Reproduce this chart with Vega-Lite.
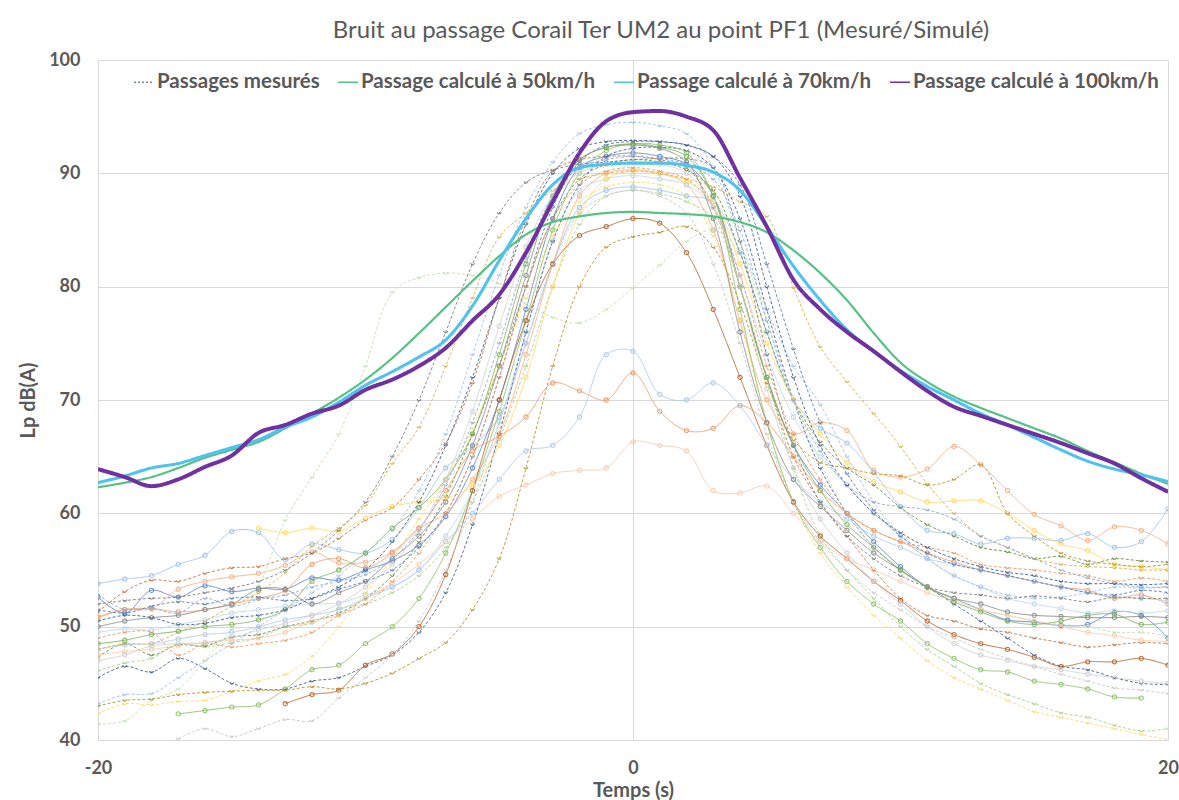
{
"$schema":"https://vega.github.io/schema/vega-lite/v6.json",
"width":1070,"height":680,
"autosize":{"type":"none"},
"padding":{"left":98,"top":60,"right":11,"bottom":60},
"background":"white",
"title":{"text":"Bruit au passage Corail Ter UM2 au point PF1 (Mesuré/Simulé)","font":"Lato","fontSize":24,"fontWeight":"normal","color":"#595959","anchor":"middle","dx":28,"offset":8},
"config":{"view":{"stroke":null},"axis":{"labelFont":"Lato","labelFontSize":18,"labelFontWeight":"bold","labelColor":"#595959","titleFont":"Lato","titleFontSize":20,"titleFontWeight":"bold","titleColor":"#595959","gridColor":"#D9D9D9","gridWidth":1,"domain":false,"ticks":false}},
"data":{"values":[
{"t":-20,"m01":53.8,"m02":52.6,"m03":51.3,"m04":50.9,"m05":49.5,"m06":47.3,"m07":46.1,"m08":45.5,"m09":43.2,"m10":42.3,"m11":41.4,"m12":null,"m13":null,"m14":null,"m15":null,"m16":50.8,"m17":48.0,"m18":47.5,"m19":48,"m20":52.0,"m21":51.5,"m22":50.0,"m23":48.5,"m24":43.0,"m25":49,"m26":52.8,"m27":50.5,"m28":47.0,"c50":62.3,"c70":62.7,"c100":63.9},
{"t":-19,"m01":54.2,"m02":51.2,"m03":53.1,"m04":51.5,"m05":49.8,"m06":48.5,"m07":46.8,"m08":46.5,"m09":44,"m10":43.2,"m11":41.7,"m12":null,"m13":null,"m14":null,"m15":null,"m16":51.5,"m17":48.4,"m18":47.8,"m19":48.5,"m20":52.3,"m21":51.2,"m22":50.5,"m23":48.8,"m24":43.5,"m25":49.5,"m26":51.5,"m27":51,"m28":47.5,"c50":62.7,"c70":63.3,"c100":63.2},
{"t":-18,"m01":54.5,"m02":53.2,"m03":54.1,"m04":51.6,"m05":49.7,"m06":47.5,"m07":47.2,"m08":46.0,"m09":44.1,"m10":43.1,"m11":43.5,"m12":null,"m13":null,"m14":null,"m15":null,"m16":51.6,"m17":48.5,"m18":48,"m19":48.5,"m20":52.5,"m21":51.8,"m22":50.8,"m23":49.3,"m24":43.6,"m25":49.5,"m26":51.6,"m27":50.8,"m28":48.3,"c50":63.2,"c70":64.0,"c100":62.4},
{"t":-17,"m01":55.5,"m02":52.6,"m03":54.0,"m04":53.3,"m05":50.2,"m06":48.4,"m07":48.5,"m08":47.2,"m09":45.5,"m10":43.4,"m11":44.5,"m12":null,"m13":42.3,"m14":null,"m15":40.1,"m16":51.3,"m17":48.9,"m18":48.3,"m19":49.5,"m20":52.6,"m21":52.2,"m22":51,"m23":49.6,"m24":44.0,"m25":47.5,"m26":51.2,"m27":50.2,"m28":48.5,"c50":64.0,"c70":64.4,"c100":63.0},
{"t":-16,"m01":56.3,"m02":53.6,"m03":54.7,"m04":54.0,"m05":50.6,"m06":48.3,"m07":48.2,"m08":46.3,"m09":47,"m10":43.5,"m11":47.0,"m12":null,"m13":42.6,"m14":null,"m15":41,"m16":51.5,"m17":49.3,"m18":48.6,"m19":50.5,"m20":53,"m21":52,"m22":51.5,"m23":50,"m24":44.2,"m25":48.5,"m26":52.5,"m27":50.3,"m28":48.6,"c50":64.9,"c70":65.1,"c100":64.1},
{"t":-15,"m01":58.4,"m02":53.1,"m03":55.2,"m04":54.4,"m05":51.2,"m06":49.1,"m07":48.6,"m08":45.0,"m09":48.5,"m10":44.3,"m11":49.8,"m12":null,"m13":42.9,"m14":null,"m15":40.3,"m16":52,"m17":49.5,"m18":48.8,"m19":51.8,"m20":53.4,"m21":52.5,"m22":52,"m23":50.2,"m24":44.3,"m25":48.2,"m26":51.8,"m27":50.8,"m28":49,"c50":65.6,"c70":65.8,"c100":65.1},
{"t":-14,"m01":58.3,"m02":53.4,"m03":55.3,"m04":54.7,"m05":51.5,"m06":49.3,"m07":49,"m08":44.5,"m09":50,"m10":45.2,"m11":53.5,"m12":58.7,"m13":43.1,"m14":null,"m15":41,"m16":52.5,"m17":50,"m18":49,"m19":53,"m20":54,"m21":52.6,"m22":53.3,"m23":50.6,"m24":44.4,"m25":48.5,"m26":52.4,"m27":51,"m28":49.7,"c50":66.3,"c70":66.5,"c100":67.1},
{"t":-13,"m01":55.9,"m02":53.3,"m03":56.0,"m04":55.4,"m05":51.8,"m06":50,"m07":50,"m08":44.5,"m09":51.5,"m10":45.8,"m11":59.4,"m12":58.3,"m13":44.5,"m14":43.2,"m15":41.8,"m16":53.2,"m17":50.6,"m18":49.5,"m19":54.8,"m20":55,"m21":52.3,"m22":53.3,"m23":51.5,"m24":44.4,"m25":48.8,"m26":52.8,"m27":51.5,"m28":50.3,"c50":67.5,"c70":67.6,"c100":67.8},
{"t":-12,"m01":57.3,"m02":54.3,"m03":56.5,"m04":56.6,"m05":52.0,"m06":50.5,"m07":50.3,"m08":45.2,"m09":53,"m10":47.4,"m11":63.2,"m12":58.7,"m13":46.2,"m14":44,"m15":41.7,"m16":55.5,"m17":51,"m18":50.5,"m19":57.1,"m20":56.5,"m21":52.5,"m22":52,"m23":54.0,"m24":44.7,"m25":49.5,"m26":53.5,"m27":52.5,"m28":51,"c50":68.8,"c70":68.5,"c100":68.8},
{"t":-11,"m01":56.8,"m02":54.1,"m03":57.8,"m04":55.6,"m05":52.1,"m06":51.2,"m07":51.6,"m08":45.5,"m09":54.5,"m10":50,"m11":67,"m12":58.4,"m13":46.6,"m14":44.4,"m15":43.7,"m16":56,"m17":51.5,"m18":51,"m19":58.7,"m20":58.5,"m21":53.3,"m22":53,"m23":55.0,"m24":44.5,"m25":51,"m26":54.0,"m27":53.5,"m28":52,"c50":70.2,"c70":69.8,"c100":69.5},
{"t":-10,"m01":56.5,"m02":55,"m03":59.4,"m04":55.7,"m05":52.8,"m06":52.5,"m07":52,"m08":46.5,"m09":56.5,"m10":53,"m11":73,"m12":59.6,"m13":48.5,"m14":46.6,"m15":45.5,"m16":55.2,"m17":52.5,"m18":52.5,"m19":60.7,"m20":61,"m21":54,"m22":54,"m23":56.5,"m24":45.0,"m25":52,"m26":54.6,"m27":55,"m28":53.5,"c50":71.8,"c70":71.3,"c100":70.9},
{"t":-9,"m01":57.7,"m02":55.8,"m03":60.5,"m04":56.6,"m05":53.5,"m06":54.5,"m07":53,"m08":47.5,"m09":58.5,"m10":56,"m11":79.5,"m12":60.6,"m13":50,"m14":47.6,"m15":47.5,"m16":56.5,"m17":53.5,"m18":53.8,"m19":64.4,"m20":65,"m21":55,"m22":56,"m23":58.7,"m24":45.9,"m25":54,"m26":56,"m27":57.5,"m28":55.5,"c50":73.7,"c70":72.5,"c100":71.8},
{"t":-8,"m01":60.5,"m02":57.2,"m03":63,"m04":58.7,"m05":55,"m06":57.5,"m07":54.5,"m08":49.5,"m09":62,"m10":59.5,"m11":80.8,"m12":61,"m13":52.5,"m14":50,"m15":50.5,"m16":58.7,"m17":55,"m18":55.5,"m19":67.6,"m20":70,"m21":57,"m22":58,"m23":60.5,"m24":47.2,"m25":56.5,"m26":58.5,"m27":61,"m28":58.5,"c50":75.9,"c70":73.8,"c100":73.0},
{"t":-7,"m01":64.0,"m02":59.7,"m03":66.2,"m04":60,"m05":58,"m06":61.5,"m07":57,"m08":53,"m09":67,"m10":63,"m11":81.2,"m12":61.3,"m13":56.5,"m14":54.6,"m15":55,"m16":62,"m17":57.5,"m18":57.5,"m19":73,"m20":76,"m21":60,"m22":61,"m23":63,"m24":48.6,"m25":60,"m26":62.5,"m27":66,"m28":63,"c50":78.2,"c70":75.3,"c100":74.6},
{"t":-6,"m01":65.9,"m02":64,"m03":71.5,"m04":63,"m05":62,"m06":67,"m07":61,"m08":59,"m09":74,"m10":67.5,"m11":81,"m12":62.5,"m13":62,"m14":62,"m15":61,"m16":65.5,"m17":60,"m18":59.5,"m19":79,"m20":82,"m21":65,"m22":66,"m23":67,"m24":51.5,"m25":65,"m26":68,"m27":72,"m28":69,"c50":80.5,"c70":78.3,"c100":77.0},
{"t":-5,"m01":68.5,"m02":70,"m03":79,"m04":67,"m05":68,"m06":73,"m07":66.5,"m08":67,"m09":81,"m10":73,"m11":80.3,"m12":66,"m13":69,"m14":70,"m15":68,"m16":66.8,"m17":63,"m18":61.5,"m19":84.4,"m20":86.5,"m21":72,"m22":73,"m23":74,"m24":56,"m25":72,"m26":75,"m27":79,"m28":76.5,"c50":82.7,"c70":82.3,"c100":79.3},
{"t":-4,"m01":75,"m02":78,"m03":86,"m04":74,"m05":76,"m06":80,"m07":73,"m08":76,"m09":87,"m10":79,"m11":78.5,"m12":72,"m13":77,"m14":77,"m15":75,"m16":68.5,"m17":65.5,"m18":62.5,"m19":86.5,"m20":89.2,"m21":80,"m22":81,"m23":82,"m24":64,"m25":80,"m26":82.5,"m27":85.5,"m28":83.5,"c50":84.6,"c70":86.0,"c100":83.0},
{"t":-3,"m01":82,"m02":86,"m03":90.2,"m04":82,"m05":84,"m06":86,"m07":80,"m08":84,"m09":91,"m10":84.5,"m11":77.3,"m12":80,"m13":85,"m14":82,"m15":82,"m16":71.5,"m17":66,"m18":63.5,"m19":88.5,"m20":90.3,"m21":87,"m22":88,"m23":88,"m24":73,"m25":86,"m26":88,"m27":90,"m28":88,"c50":85.7,"c70":89.0,"c100":87.5},
{"t":-2,"m01":87,"m02":90.5,"m03":91.2,"m04":88,"m05":88.5,"m06":89.5,"m07":85.5,"m08":89,"m09":93.5,"m10":87.5,"m11":76.8,"m12":86.5,"m13":90,"m14":84.5,"m15":86.5,"m16":70.8,"m17":68.5,"m18":63.8,"m19":89.5,"m20":90.8,"m21":91,"m22":91.2,"m23":91.2,"m24":80,"m25":89,"m26":90.5,"m27":92.2,"m28":90,"c50":86.2,"c70":90.5,"c100":91.8},
{"t":-1,"m01":88.5,"m02":91.5,"m03":91.5,"m04":90,"m05":89.5,"m06":90.8,"m07":88,"m08":91.5,"m09":94.3,"m10":88.8,"m11":78,"m12":89.5,"m13":92,"m14":85.3,"m15":88,"m16":70,"m17":74.0,"m18":64.0,"m19":90,"m20":91,"m21":92.5,"m22":92.3,"m23":92.3,"m24":83.5,"m25":90.2,"m26":91.2,"m27":92.8,"m28":90.8,"c50":86.5,"c70":90.8,"c100":94.6},
{"t":0,"m01":88.8,"m02":91.8,"m03":91.5,"m04":90.3,"m05":89.8,"m06":91.2,"m07":88.5,"m08":92.2,"m09":94.5,"m10":89.2,"m11":79.9,"m12":90.2,"m13":92.6,"m14":86.0,"m15":88.5,"m16":72.4,"m17":74.3,"m18":66.3,"m19":90.2,"m20":91.2,"m21":92.8,"m22":92.5,"m23":92.6,"m24":84.4,"m25":90.5,"m26":91.5,"m27":92.9,"m28":91,"c50":86.6,"c70":90.9,"c100":95.4},
{"t":1,"m01":88.5,"m02":91.5,"m03":91.2,"m04":90,"m05":89.5,"m06":91,"m07":88.2,"m08":92.3,"m09":94.2,"m10":89,"m11":81.9,"m12":90,"m13":92.5,"m14":85.6,"m15":88,"m16":69,"m17":70.5,"m18":66.0,"m19":90,"m20":91.3,"m21":92.8,"m22":92.2,"m23":92.3,"m24":84.8,"m25":90.2,"m26":91.3,"m27":92.8,"m28":90.8,"c50":86.5,"c70":90.9,"c100":95.5},
{"t":2,"m01":88.0,"m02":90.8,"m03":90.5,"m04":89,"m05":89,"m06":90.3,"m07":87.5,"m08":92.0,"m09":93.5,"m10":88,"m11":84,"m12":89.3,"m13":91.8,"m14":83,"m15":86.5,"m16":67.3,"m17":70.0,"m18":65.5,"m19":89.5,"m20":91.3,"m21":92.5,"m22":91,"m23":91.5,"m24":85.3,"m25":89.5,"m26":90.8,"m27":92.5,"m28":90,"c50":86.4,"c70":90.7,"c100":95.0},
{"t":3,"m01":87.5,"m02":88,"m03":87,"m04":85,"m05":87,"m06":88.5,"m07":86,"m08":90.5,"m09":90.5,"m10":84.5,"m11":85,"m12":87.5,"m13":88,"m14":78,"m15":82,"m16":67.5,"m17":71.5,"m18":62.0,"m19":88.8,"m20":90.5,"m21":91.5,"m22":86,"m23":88,"m24":83.5,"m25":87,"m26":89.5,"m27":91.5,"m28":87,"c50":86.2,"c70":90.1,"c100":93.8},
{"t":4,"m01":83.0,"m02":80,"m03":80,"m04":77,"m05":81,"m06":83,"m07":80,"m08":86,"m09":84,"m10":77,"m11":83,"m12":82,"m13":78,"m14":72,"m15":75,"m16":69.5,"m17":69.5,"m18":61.8,"m19":87.5,"m20":84,"m21":89,"m22":76,"m23":80,"m24":78.5,"m25":81,"m26":85,"m27":88,"m28":80,"c50":85.7,"c70":88.5,"c100":89.6},
{"t":5,"m01":76,"m02":72,"m03":72,"m04":70,"m05":74,"m06":76,"m07":72,"m08":78,"m09":78,"m10":68,"m11":77,"m12":75,"m13":68,"m14":66,"m15":67,"m16":68,"m17":66,"m18":62.4,"m19":86.2,"m20":74,"m21":82,"m22":68,"m23":72,"m24":71.5,"m25":73,"m26":77,"m27":80,"m28":71,"c50":84.8,"c70":85.3,"c100":85.3},
{"t":6,"m01":70,"m02":66,"m03":65,"m04":67,"m05":68.5,"m06":70,"m07":64,"m08":70,"m09":73,"m10":61,"m11":70,"m12":70,"m13":61,"m14":61,"m15":61,"m16":65,"m17":63,"m18":60,"m19":79.9,"m20":66,"m21":74.5,"m22":63,"m23":66,"m24":66.5,"m25":67,"m26":70,"m27":72,"m28":64,"c50":83.2,"c70":81.8,"c100":80.6},
{"t":7,"m01":67.5,"m02":62.5,"m03":61,"m04":68,"m05":65,"m06":66.3,"m07":58,"m08":64,"m09":69.6,"m10":56.5,"m11":64.5,"m12":67,"m13":57,"m14":58,"m15":57.5,"m16":62,"m17":61,"m18":57.5,"m19":74.7,"m20":61,"m21":68,"m22":60.6,"m23":62,"m24":64.5,"m25":63,"m26":65.5,"m27":66,"m28":59.5,"c50":81.2,"c70":78.8,"c100":78.0},
{"t":8,"m01":66.2,"m02":60,"m03":58,"m04":67.3,"m05":62.5,"m06":64,"m07":55,"m08":60,"m09":65,"m10":53.5,"m11":60,"m12":64.5,"m13":54,"m14":56,"m15":55,"m16":60,"m17":59.5,"m18":56,"m19":71.6,"m20":58,"m21":63.5,"m22":58.5,"m23":59,"m24":64,"m25":60,"m26":62.5,"m27":62.5,"m28":56.5,"c50":78.8,"c70":76.2,"c100":76.0},
{"t":9,"m01":63.6,"m02":57.5,"m03":55,"m04":63.8,"m05":60,"m06":62.5,"m07":52.5,"m08":57,"m09":61,"m10":51,"m11":57,"m12":62.8,"m13":52,"m14":54,"m15":53,"m16":58.5,"m17":58,"m18":55,"m19":68.8,"m20":56,"m21":60.3,"m22":56.5,"m23":57,"m24":63.5,"m25":58.5,"m26":61,"m27":60,"m28":54,"c50":75.9,"c70":74.3,"c100":74.3},
{"t":10,"m01":60.6,"m02":55.3,"m03":52.5,"m04":63.2,"m05":58,"m06":60.5,"m07":50,"m08":55,"m09":58,"m10":49,"m11":55,"m12":61.9,"m13":50.5,"m14":52.3,"m15":51.5,"m16":57.5,"m17":57,"m18":54,"m19":65.9,"m20":54.5,"m21":58,"m22":55,"m23":55,"m24":63.3,"m25":57.5,"m26":60.6,"m27":58.3,"m28":52,"c50":73.3,"c70":72.6,"c100":72.5},
{"t":11,"m01":58.5,"m02":53.5,"m03":51,"m04":63.9,"m05":56,"m06":59,"m07":48,"m08":53.5,"m09":56,"m10":47,"m11":53.5,"m12":61,"m13":48.5,"m14":50.5,"m15":50,"m16":56.5,"m17":56,"m18":53,"m19":62.6,"m20":53.5,"m21":56.5,"m22":53.5,"m23":53.5,"m24":62.5,"m25":57,"m26":60.3,"m27":57,"m28":50,"c50":71.6,"c70":71.2,"c100":70.8},
{"t":12,"m01":58.2,"m02":52.5,"m03":50.5,"m04":65.9,"m05":54.5,"m06":58,"m07":46.5,"m08":52,"m09":54.5,"m10":45.5,"m11":52.5,"m12":61.1,"m13":47.2,"m14":49.3,"m15":49,"m16":55.7,"m17":55.5,"m18":52.3,"m19":60,"m20":53,"m21":55.5,"m22":52.5,"m23":52.2,"m24":63,"m25":56.5,"m26":59.5,"m27":56,"m28":48.5,"c50":70.3,"c70":70.0,"c100":69.4},
{"t":13,"m01":57.3,"m02":51.5,"m03":49.8,"m04":64.3,"m05":53.5,"m06":57,"m07":45,"m08":50.5,"m09":53.5,"m10":44.5,"m11":51.5,"m12":61.1,"m13":46.2,"m14":48.5,"m15":48,"m16":55,"m17":55,"m18":51.5,"m19":58,"m20":52.8,"m21":55,"m22":52,"m23":51.3,"m24":64.3,"m25":55.5,"m26":58,"m27":55.3,"m28":47.5,"c50":69.3,"c70":68.8,"c100":68.6},
{"t":14,"m01":57.8,"m02":50.6,"m03":49.5,"m04":62,"m05":52.5,"m06":56.6,"m07":44,"m08":49,"m09":52.8,"m10":43.5,"m11":51,"m12":60,"m13":46,"m14":48,"m15":47.2,"m16":54.5,"m17":54.5,"m18":51,"m19":57,"m20":52.5,"m21":54.5,"m22":51.3,"m23":50.5,"m24":60,"m25":55.2,"m26":57,"m27":54.8,"m28":47,"c50":68.4,"c70":67.8,"c100":67.8},
{"t":15,"m01":57.8,"m02":50.4,"m03":49.0,"m04":59.9,"m05":52,"m06":56.0,"m07":43.2,"m08":47.5,"m09":52.5,"m10":42.5,"m11":50.5,"m12":58.5,"m13":45.2,"m14":47.3,"m15":46.5,"m16":54,"m17":54,"m18":50.5,"m19":56,"m20":52.7,"m21":54,"m22":51,"m23":50.2,"m24":58,"m25":55,"m26":56,"m27":54.5,"m28":46.5,"c50":67.5,"c70":66.7,"c100":67.0},
{"t":16,"m01":57.6,"m02":50.1,"m03":48.6,"m04":58.9,"m05":51.6,"m06":56.2,"m07":42.4,"m08":46.5,"m09":52.6,"m10":42,"m11":50.2,"m12":57.3,"m13":44.9,"m14":46.5,"m15":45.8,"m16":53.5,"m17":53.5,"m18":50,"m19":55.5,"m20":52.5,"m21":53.5,"m22":50.9,"m23":50.5,"m24":56.5,"m25":54.7,"m26":55,"m27":54,"m28":46.2,"c50":66.6,"c70":65.6,"c100":66.2},
{"t":17,"m01":58.2,"m02":50.2,"m03":48.2,"m04":57.6,"m05":51.2,"m06":55.5,"m07":42,"m08":46.2,"m09":53,"m10":41.5,"m11":50,"m12":56.7,"m13":44.5,"m14":46.9,"m15":45.2,"m16":53.2,"m17":53,"m18":49.5,"m19":55.3,"m20":52.2,"m21":53,"m22":50.8,"m23":51,"m24":55.8,"m25":54.5,"m26":54.3,"m27":53.8,"m28":45.8,"c50":65.5,"c70":64.6,"c100":65.3},
{"t":18,"m01":57.0,"m02":51.3,"m03":48.4,"m04":58.8,"m05":51.4,"m06":56.0,"m07":41.3,"m08":45.5,"m09":53.5,"m10":41,"m11":49.5,"m12":55.5,"m13":43.8,"m14":46.9,"m15":44.6,"m16":52.5,"m17":52.6,"m18":49.2,"m19":55.2,"m20":52.6,"m21":52.8,"m22":50.8,"m23":51.1,"m24":55.5,"m25":54,"m26":53.8,"m27":53.8,"m28":45.5,"c50":64.5,"c70":63.9,"c100":64.4},
{"t":19,"m01":57.5,"m02":51.0,"m03":48.6,"m04":58.5,"m05":51.2,"m06":55.8,"m07":40.8,"m08":45.0,"m09":53.4,"m10":40.5,"m11":49.5,"m12":55.3,"m13":43.7,"m14":47.2,"m15":44.4,"m16":52.8,"m17":52.5,"m18":48.8,"m19":55,"m20":52.5,"m21":53.2,"m22":50.9,"m23":50.2,"m24":55.3,"m25":54.3,"m26":53.5,"m27":53.7,"m28":45.2,"c50":63.5,"c70":63.4,"c100":63.1},
{"t":20,"m01":60.4,"m02":49.0,"m03":48.5,"m04":57.3,"m05":51.4,"m06":55.7,"m07":41.0,"m08":44.9,"m09":53.5,"m10":40.0,"m11":49.2,"m12":55.0,"m13":null,"m14":46.6,"m15":44.1,"m16":52.0,"m17":52.3,"m18":48.7,"m19":55.0,"m20":52.5,"m21":53.0,"m22":50.8,"m23":50.4,"m24":55.5,"m25":54.0,"m26":53.5,"m27":53.8,"m28":45.0,"c50":62.6,"c70":62.8,"c100":61.9}
]},
"layer":[
{"transform":[{"fold":["m01","m02","m03","m04","m05","m06","m07","m08","m09","m10","m11","m12","m13","m14","m15","m16","m17","m18","m19","m20","m21","m22","m23","m24","m25","m26","m27","m28"],"as":["serie","lp"]}],
 "layer":[
  {"mark":{"type":"line","interpolate":"catmull-rom","strokeWidth":1,"opacity":0.9,"clip":true},
   "encoding":{
    "x":{"field":"t","type":"quantitative","scale":{"domain":[-20,20]},"axis":{"values":[-20,0,20],"grid":true,"labelPadding":19,"labelFlush":false,"labelOverlap":false,"labelExpr":"'' + datum.value","title":"Temps (s)","titlePadding":3}},
    "y":{"field":"lp","type":"quantitative","scale":{"domain":[40,100]},"axis":{"values":[40,50,60,70,80,90,100],"grid":true,"labelPadding":18,"title":"Lp dB(A)","titlePadding":10}},
    "color":{"field":"serie","type":"nominal","legend":null,"scale":{"domain":["m01","m02","m03","m04","m05","m06","m07","m08","m09","m10","m11","m12","m13","m14","m15","m16","m17","m18","m19","m20","m21","m22","m23","m24","m25","m26","m27","m28"],"range":["#9DC3E6","#5B84C9","#C07B4C","#F4B183","#BDD7EE","#6C8F3F","#A9D18E","#4A6494","#9DC3E6","#FFD966","#C5E0B4","#FFD966","#8CC168","#B5652E","#C9C9C9","#EE9C6A","#AFCBEA","#F8CBAD","#D9B44A","#7F7F7F","#5B7DB8","#8C8C8C","#7DB35A","#B8962E","#E99A66","#8FAADC","#3F5F8F","#D0D0D0"]}},
    "strokeDash":{"field":"serie","type":"nominal","legend":null,"scale":{"domain":["m01","m02","m03","m04","m05","m06","m07","m08","m09","m10","m11","m12","m13","m14","m15","m16","m17","m18","m19","m20","m21","m22","m23","m24","m25","m26","m27","m28"],"range":[[1,0],[1,0],[3,2],[1,0],[1,0],[3,2],[3,2],[3,2],[3,2],[3,2],[3,2],[1,0],[1,0],[1,0],[3,2],[1,0],[1,0],[1,0],[3,2],[3,2],[3,2],[1,0],[1,0],[3,2],[3,2],[3,2],[3,2],[1,0]]}}
   }},
  {"mark":{"type":"point","filled":false,"size":18,"strokeWidth":1.1,"opacity":0.9,"clip":true},
   "encoding":{
    "x":{"field":"t","type":"quantitative"},
    "y":{"field":"lp","type":"quantitative"},
    "color":{"field":"serie","type":"nominal","legend":null},
    "shape":{"field":"serie","type":"nominal","legend":null,"scale":{"domain":["m01","m02","m03","m04","m05","m06","m07","m08","m09","m10","m11","m12","m13","m14","m15","m16","m17","m18","m19","m20","m21","m22","m23","m24","m25","m26","m27","m28"],"range":["circle","circle","M-1,-0.5Q0,1.3 1,-0.5","circle","circle","M-1,-0.5Q0,1.3 1,-0.5","M-1,-0.5Q0,1.3 1,-0.5","M-1,-0.5Q0,1.3 1,-0.5","M-1,-0.5Q0,1.3 1,-0.5","M-1,-0.5Q0,1.3 1,-0.5","M-1,-0.5Q0,1.3 1,-0.5","circle","circle","circle","M-1,-0.5Q0,1.3 1,-0.5","circle","circle","circle","M-1,-0.5Q0,1.3 1,-0.5","M-1,-0.5Q0,1.3 1,-0.5","M-1,-0.5Q0,1.3 1,-0.5","circle","circle","M-1,-0.5Q0,1.3 1,-0.5","M-1,-0.5Q0,1.3 1,-0.5","M-1,-0.5Q0,1.3 1,-0.5","M-1,-0.5Q0,1.3 1,-0.5","circle"]}}
   }}
 ]},
{"transform":[{"fold":["c50","c70","c100"],"as":["courbe","lp"]}],
 "mark":{"type":"line","interpolate":"monotone","clip":true},
 "encoding":{
  "x":{"field":"t","type":"quantitative"},
  "y":{"field":"lp","type":"quantitative"},
  "color":{"field":"courbe","type":"nominal","scale":{"domain":["mes","c50","c70","c100"],"range":["#7F8BA0","#55C184","#4FC3EE","#7030A0"]},
   "legend":{"title":null,"orient":"none","legendX":35,"legendY":11,"direction":"horizontal","columns":4,"symbolType":"stroke","symbolSize":400,"labelFont":"Lato","labelFontSize":20.5,"labelFontWeight":"bold","labelColor":"#595959","labelOffset":2,"columnPadding":15,"labelLimit":400,"labelExpr":"datum.label == 'mes' ? 'Passages mesurés' : datum.label == 'c50' ? 'Passage calculé à 50km/h' : datum.label == 'c70' ? 'Passage calculé à 70km/h' : 'Passage calculé à 100km/h'"}},
  "strokeDash":{"field":"courbe","type":"nominal","legend":null,"scale":{"domain":["mes","c50","c70","c100"],"range":[[2,2],[1,0],[1,0],[1,0]]}},
  "strokeWidth":{"field":"courbe","type":"nominal","legend":null,"scale":{"domain":["mes","c50","c70","c100"],"range":[1.3,4,4.5,4]}}
 }}
],
"resolve":{"scale":{"color":"independent","strokeDash":"independent"}}
}
